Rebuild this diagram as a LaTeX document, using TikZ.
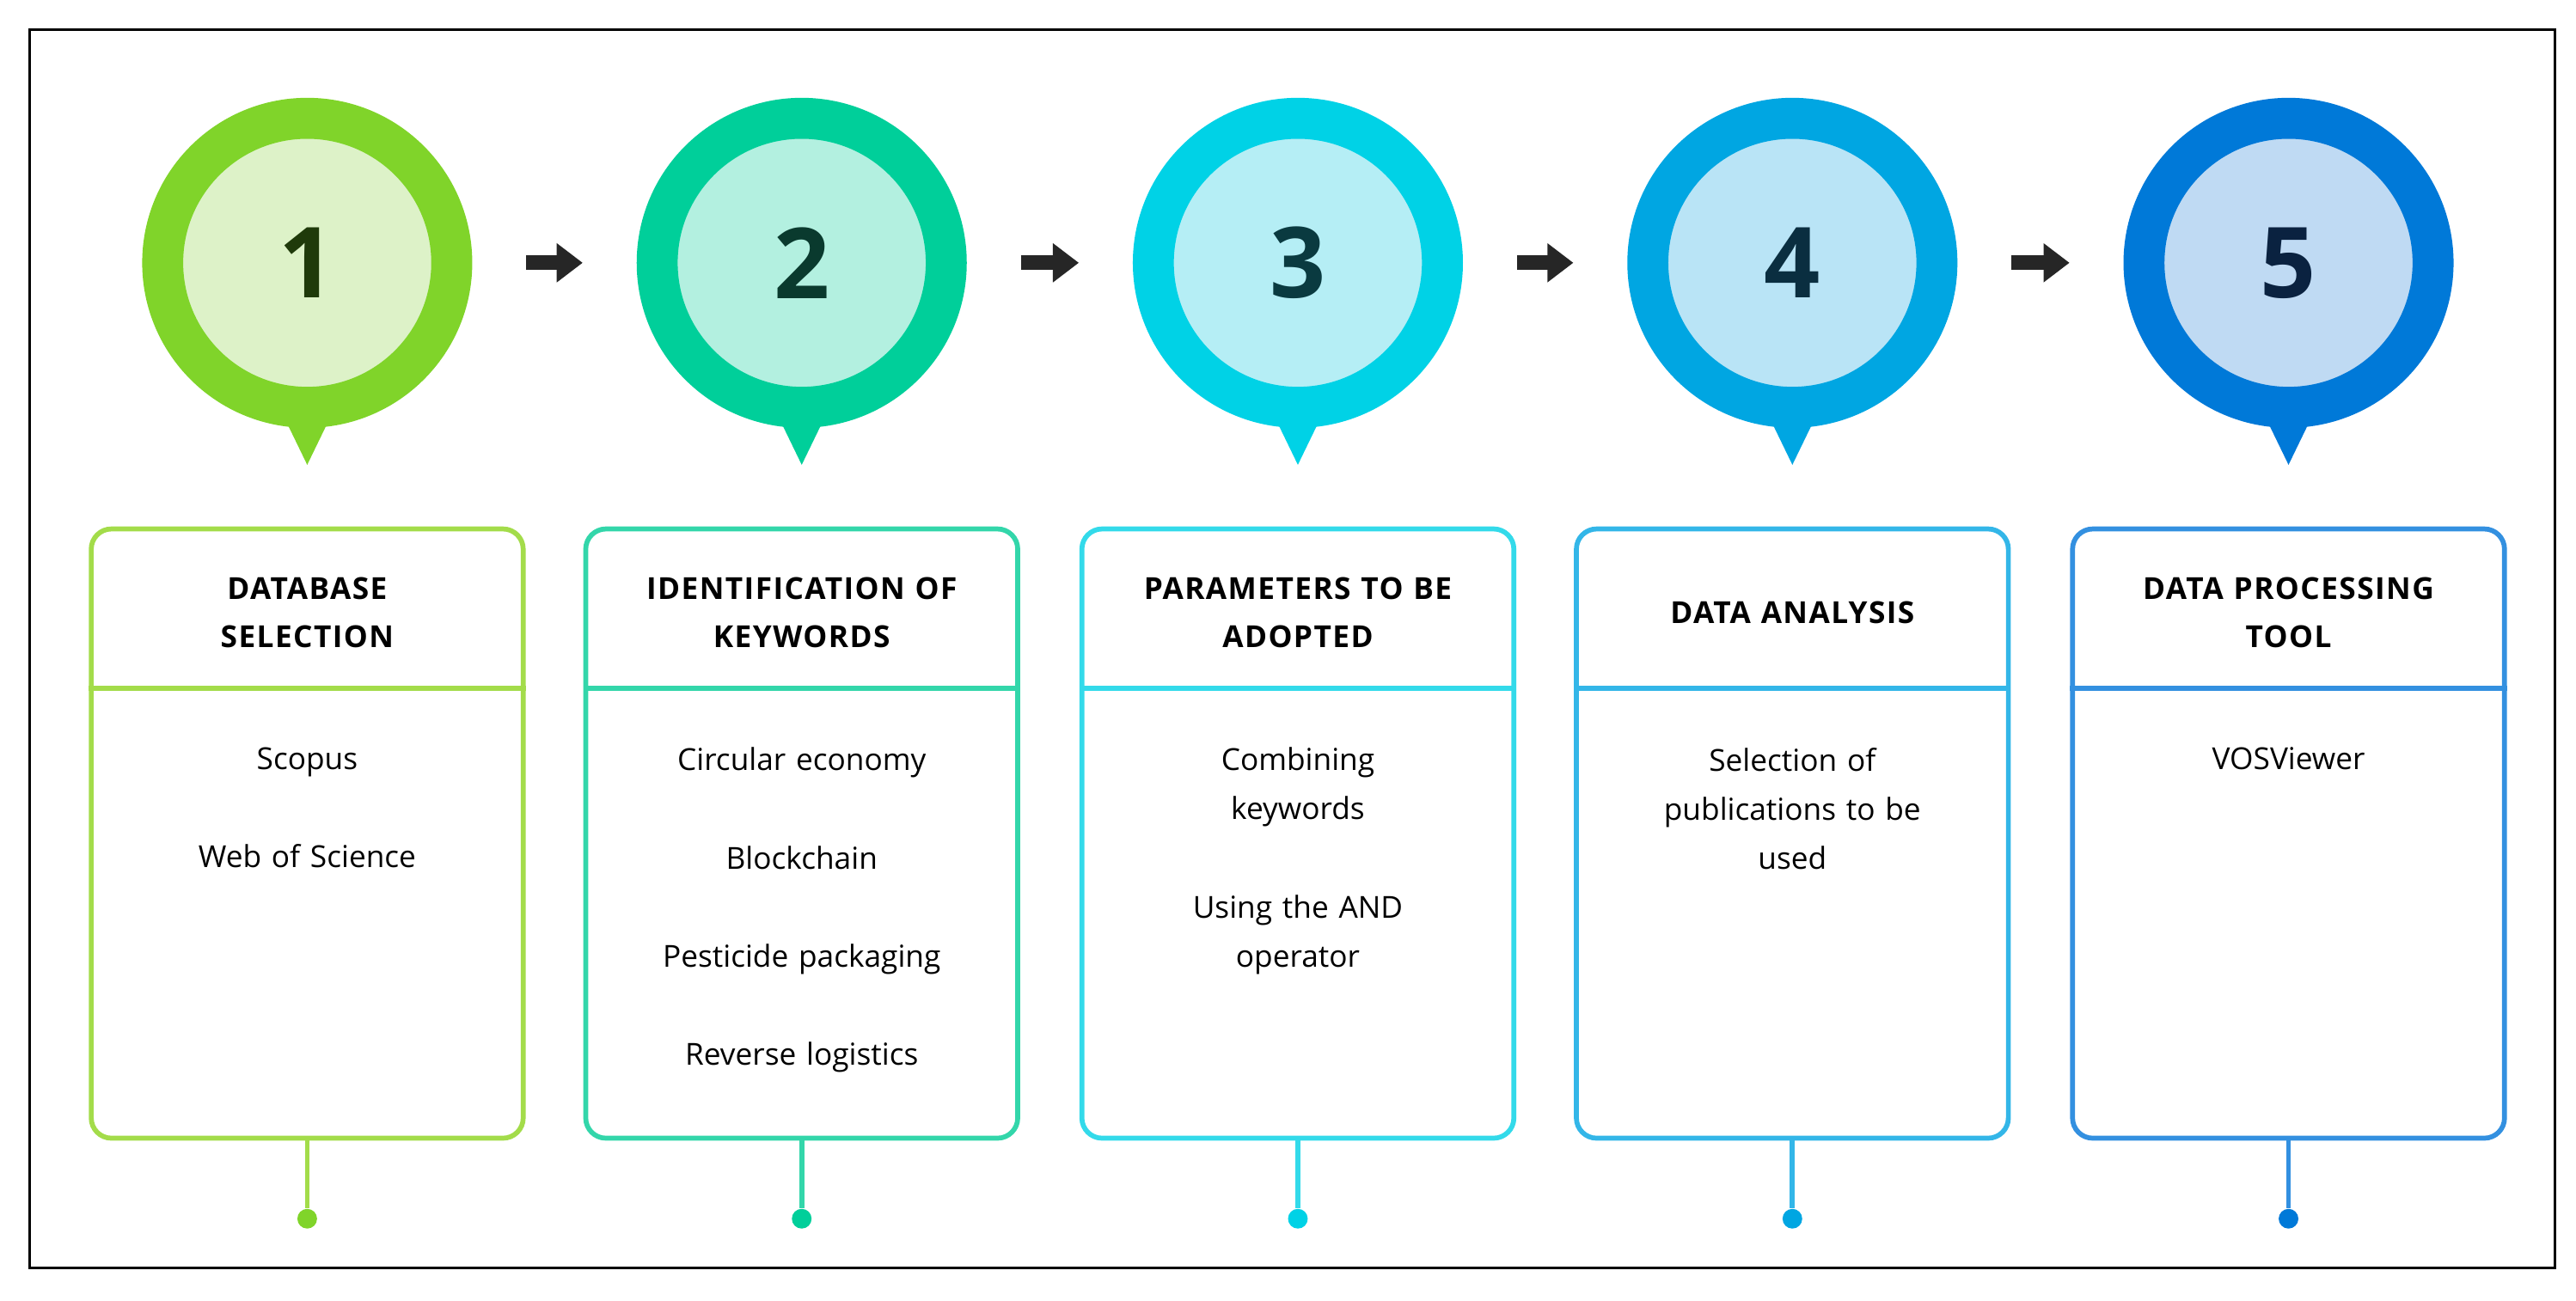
\documentclass[tikz,border=0pt]{standalone}
\usepackage{fontspec}
\setmainfont{Open Sans}
\newfontfamily\headfont[LetterSpace=4]{Open Sans}
\usetikzlibrary{arrows.meta}
\definecolor{c1}{HTML}{80D42A}\definecolor{l1}{HTML}{DDF2C8}\definecolor{b1}{HTML}{A3DC4A}\definecolor{t1}{HTML}{1F3A0A}
\definecolor{c2}{HTML}{00CF9A}\definecolor{l2}{HTML}{B3F0E0}\definecolor{b2}{HTML}{33D6AA}\definecolor{t2}{HTML}{0A3A2E}
\definecolor{c3}{HTML}{00D2E6}\definecolor{l3}{HTML}{B5EEF5}\definecolor{b3}{HTML}{33DAEA}\definecolor{t3}{HTML}{0A3A40}
\definecolor{c4}{HTML}{00A6E2}\definecolor{l4}{HTML}{B9E4F6}\definecolor{b4}{HTML}{33B6E8}\definecolor{t4}{HTML}{0A2E40}
\definecolor{c5}{HTML}{0079D8}\definecolor{l5}{HTML}{BFDAF3}\definecolor{b5}{HTML}{3390E0}\definecolor{t5}{HTML}{0A2240}
\begin{document}
\begin{tikzpicture}[x=0.02cm,y=-0.02cm,
	step circ/.style={circle,minimum size=3.52cm,inner sep=0pt,line width=14.2pt},
	step box/.style={draw,rounded corners=7pt,line width=1.7pt,minimum width=5.26cm,minimum height=7.42cm},
	head/.style={text width=4.9cm,align=center,font=\headfont\bfseries\fontsize{10.5}{16.5}\selectfont},
	body/.style={text width=4.9cm,align=center,anchor=north,font=\fontsize{10.5}{17}\selectfont},
	step arrow/.style={-{Triangle[length=9pt,width=13pt]},line width=5pt,black!85,shorten >=18.7pt,shorten <=18.7pt}]
	\useasboundingbox (0,0) rectangle (1568,792);
	\draw[line width=0.8pt] (18,18) rectangle (1555,772);
	\foreach \i/\x in {1/187,2/488,3/790,4/1091,5/1393}{
		\fill[c\i] (\x-16,250) -- (\x,283) -- (\x+16,250) -- cycle;
		\node (circ\i) [step circ,draw=c\i,fill=l\i,text=t\i,font=\bfseries\fontsize{34}{34}\selectfont] at (\x,160) {\i};
		\node (box\i) [step box,draw=b\i] at (\x,507.5) {};
		\draw[b\i,line width=1.7pt] (box\i.west |- 0,419) -- (box\i.east |- 0,419);
		\node (dot\i) [circle,fill=c\i,minimum size=0.24cm,inner sep=0pt] at (\x,742) {};
		\draw[b\i,line width=1.7pt] (box\i.south) -- (dot\i);
	}
	\foreach \i/\j in {1/2,2/3,3/4,4/5}
		\draw[step arrow] (circ\i) -- (circ\j);
	% headers
	\node (head1) [head] at (187,373) {DATABASE\\SELECTION};
	\node (head2) [head] at (488,373) {IDENTIFICATION OF\\KEYWORDS};
	\node (head3) [head] at (790,373) {PARAMETERS TO BE\\ADOPTED};
	\node (head4) [head] at (1091,373) {DATA ANALYSIS};
	\node (head5) [head] at (1393,373) {DATA PROCESSING\\TOOL};
	% contents
	\node (body1) [body] at (187,449) {Scopus\\[17pt]Web of Science};
	\node (body2) [body] at (488,449) {Circular economy\\[17pt]Blockchain\\[17pt]Pesticide packaging\\[17pt]Reverse logistics};
	\node (body3) [body] at (790,449) {Combining\\keywords\\[17pt]Using the AND\\operator};
	\node (body4) [body] at (1091,449) {Selection of\\publications to be\\used};
	\node (body5) [body] at (1393,449) {VOSViewer};
\end{tikzpicture}
\end{document}
